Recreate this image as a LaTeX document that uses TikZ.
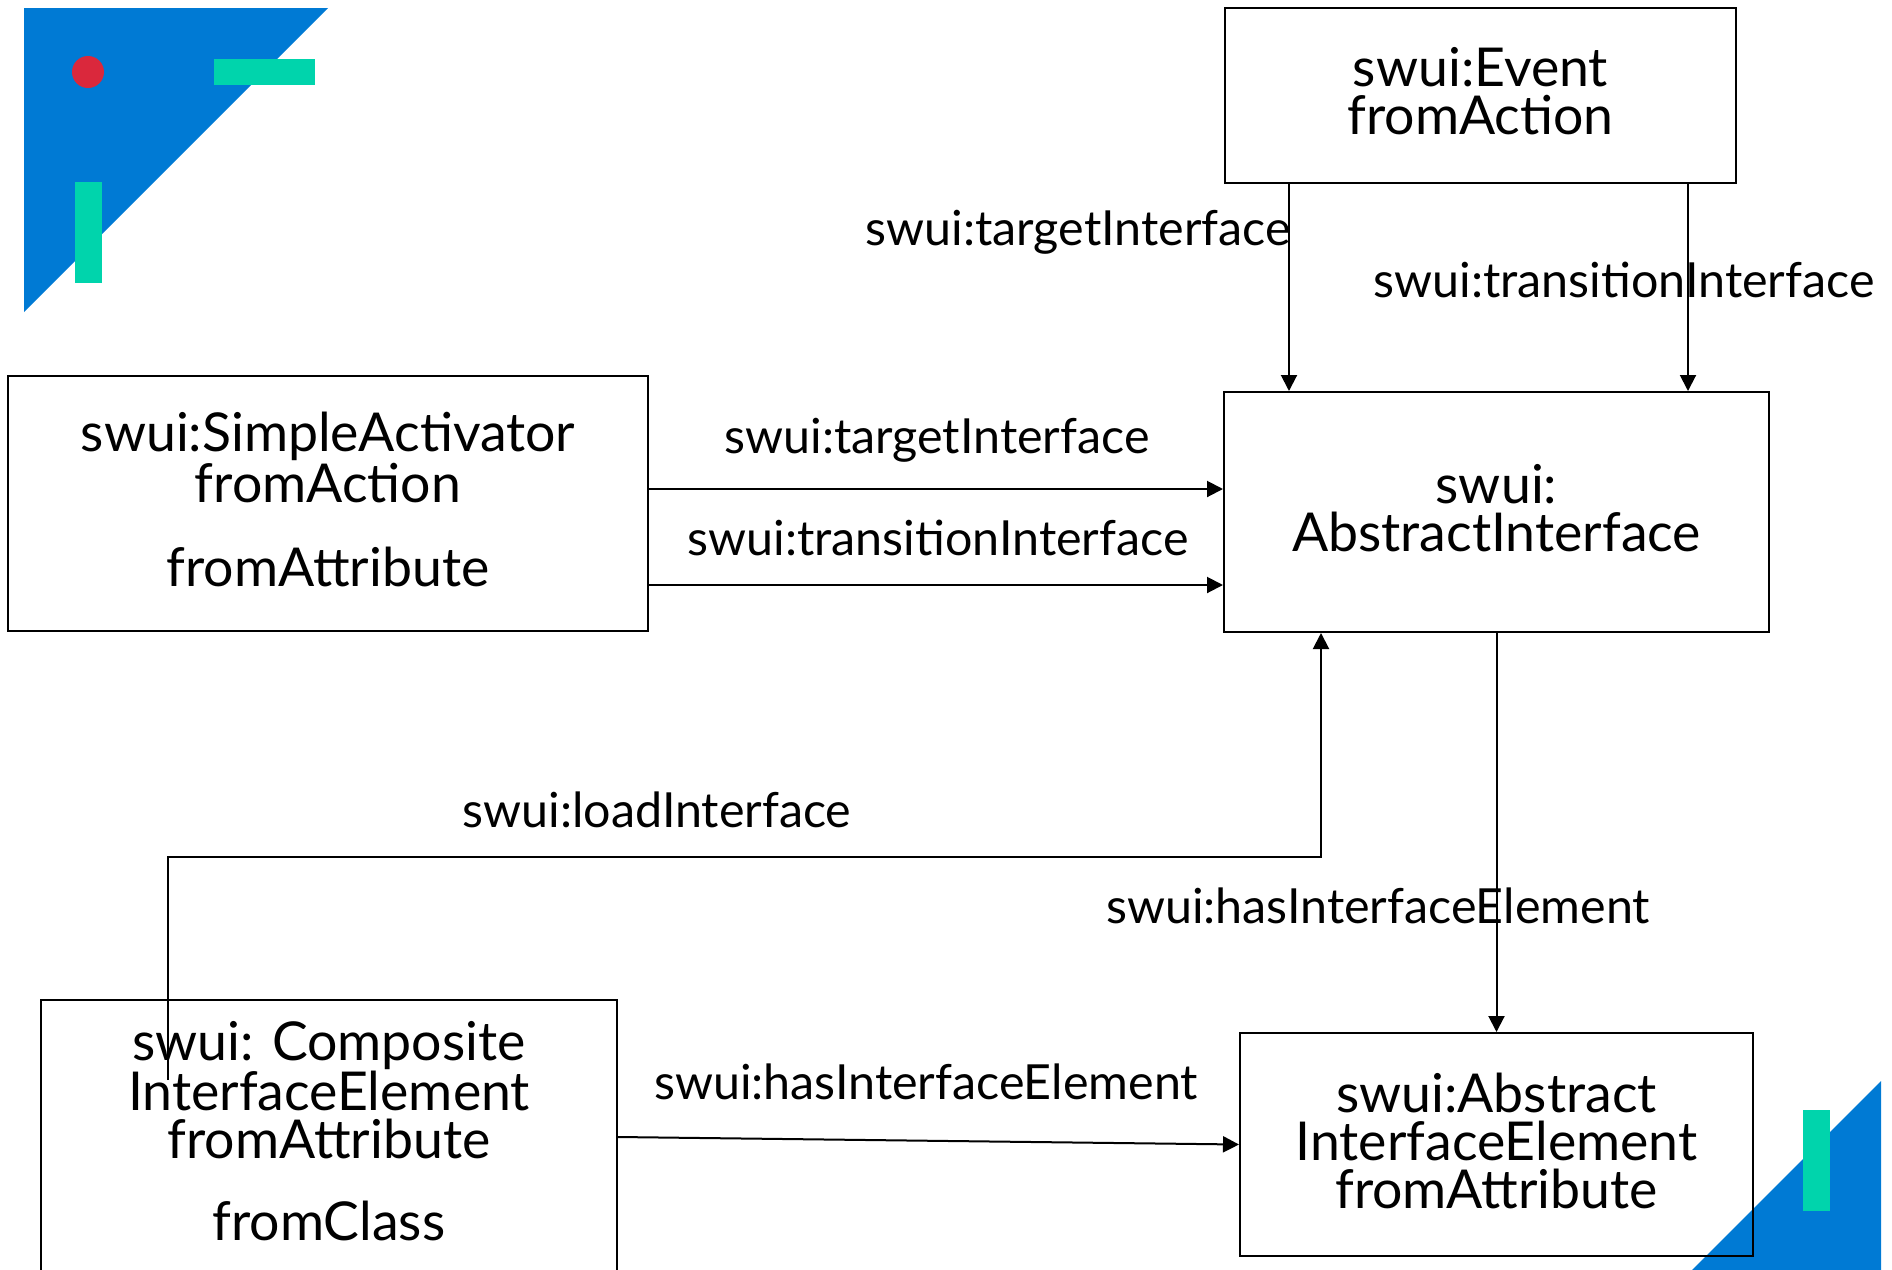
\documentclass[tikz,border=0pt]{standalone}
\usepackage{fontspec}
\setmainfont{Lato}
\usetikzlibrary{arrows.meta}
\definecolor{tblue}{RGB}{0,122,212}
\definecolor{tteal}{RGB}{0,212,172}
\definecolor{tred}{RGB}{218,40,60}
\begin{document}
\begin{tikzpicture}[x=0.5pt,y=-0.5pt,
  box/.style={draw, line width=1pt, inner sep=0pt, align=center, text depth=4.2pt,
    font=\fontsize{26.8}{24}\selectfont},
  lbl/.style={inner sep=0pt, font=\fontsize{24.2}{24}\selectfont},
  arr/.style={line width=1pt, -{Triangle[width=8pt,length=8pt]}}]
\clip (0,0) rectangle (1892,1270);
\useasboundingbox (0,0) rectangle (1892,1270);
% decorations
\fill[tblue] (24,8) -- (328,8) -- (24,312) -- cycle;
\fill[tred] (88,72) circle (8pt);
\fill[tteal] (214,59) rectangle (315,85);
\fill[tteal] (75,182) rectangle (102,283);
\fill[tblue] (1881,1081) -- (1881,1280) -- (1682,1280) -- cycle;
\fill[tteal] (1803,1110) rectangle (1830,1211);
% boxes
\node[box, minimum width=255.5pt, minimum height=87.5pt] (ev) at (1480.5,95.5) {swui:Event\\fromAction};
\node[box, minimum width=272.5pt, minimum height=120pt] (ai) at (1496.5,512) {swui:\\AbstractInterface};
\node[box, minimum width=320pt, minimum height=127.5pt] (sa) at (328,503.5) {swui:SimpleActivator\\fromAction\\[18pt]fromAttribute};
\node[box, minimum width=288pt, minimum height=160pt] (comp) at (329,1160) {};
\node[box, draw=none] (compt) at (329,1135) {swui: Composite\\InterfaceElement\\fromAttribute\\[17pt]fromClass};
\node[box, minimum width=256.5pt, minimum height=111.5pt] (aie) at (1496.5,1144.5) {swui:Abstract\\InterfaceElement\\fromAttribute};
% connectors
\draw[arr] ([xshift=-95.75pt]ev.south) -- ([xshift=-103.75pt]ai.north);
\draw[arr] ([xshift=103.75pt]ev.south) -- ([xshift=95.75pt]ai.north);
\draw[arr] ([yshift=7.25pt]sa.east) -- ([yshift=11.5pt]ai.west);
\draw[arr] ([yshift=-40.75pt]sa.east) -- ([yshift=-36.5pt]ai.west);
\draw[arr] ([xshift=-80.5pt,yshift=40pt]comp.center) -- ++(0,-223) -| ([xshift=-87.75pt]ai.south);
\draw[arr] (ai.south) -- (aie.north);
\draw[arr] ([yshift=11.5pt]comp.east) -- (aie.west);
% labels
\node[lbl, anchor=east] (l1) at (1291,232) {swui:targetInterface};
\node[lbl] (l2) at (1624,280) {swui:transitionInterface};
\node[lbl] (l3) at (937,440) {swui:targetInterface};
\node[lbl] (l4) at (938,538) {swui:transitionInterface};
\node[lbl] (l5) at (657,810) {swui:loadInterface};
\node[lbl] (l6) at (1378,906) {swui:hasInterfaceElement};
\node[lbl] (l7) at (926,1082) {swui:hasInterfaceElement};
\end{tikzpicture}
\end{document}
